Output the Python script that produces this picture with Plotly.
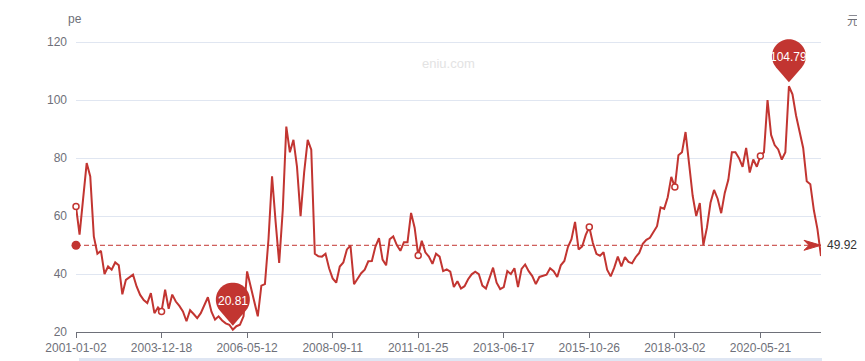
import math
import plotly.graph_objects as go

# ---- data ----
TICK_LABELS = ["2001-01-02", "2003-12-18", "2006-05-12", "2008-09-11", "2011-01-25",
               "2013-06-17", "2015-10-26", "2018-03-02", "2020-05-21"]
POINTS_PER_TICK = 24
# tick positions at which the line shows its small open symbol
SYMBOL_TICKS = ["2001-01-02", "2003-12-18", "2011-01-25", "2015-10-26", "2018-03-02", "2020-05-21"]

PE = [
    63.3, 53.6, 66, 78.3, 73.7, 53, 47, 48, 40, 42.6,
    41.5, 44, 43, 33, 38, 39, 39.8, 35.7, 32.8, 31,
    30, 33.4, 26.5, 28.5, 27.1, 34.6, 28, 32.9, 30.5, 29,
    27.1, 23.7, 27.5, 26.2, 24.8, 26.5, 29.5, 32, 27, 24.3,
    25.4, 24, 23, 22.5, 20.81, 22, 22.5, 25.4, 40.9, 36,
    31.1, 25.4, 36, 36.5, 52, 73.7, 58, 43.8, 62, 90.9,
    82, 86.3, 77, 60, 75, 86.3, 82.9, 47, 46.1, 46,
    47, 42, 38.5, 37, 42.6, 44, 48.5, 49.8, 36.5, 38.5,
    40.3, 41.5, 44.4, 44.5, 49.5, 52.4, 45, 43, 52, 53,
    50, 48, 51, 51, 61.1, 56, 46.4, 51.5, 47.5, 46,
    43.5, 47, 46, 41, 41.6, 40.8, 35.5, 37.5, 35, 35.8,
    38.2, 39.9, 40.8, 40, 36, 35, 39, 42.2, 37, 34.8,
    35.5, 41, 40, 42, 35.5, 41.8, 43.3, 41, 39.3, 36.5,
    39, 39.5, 39.8, 42, 41, 39, 43, 44.5, 49.3, 52,
    58, 48.5, 49.5, 53.5, 56.2, 50.7, 47, 46.3, 47.5, 41.5,
    39.2, 42.2, 46, 42.6, 45.8, 44.2, 43.7, 45.8, 47.3, 50.4,
    51.8, 52.5, 54.5, 56.5, 63, 62.5, 66.5, 73.5, 70, 81,
    82, 89, 78, 67, 60, 64.5, 50, 56, 64.6, 69,
    66, 61, 68, 72.5, 82, 82, 80, 77, 83.5, 75,
    79.5, 77, 80.7, 82, 100, 88, 84.5, 83, 79.5, 82,
    104.79, 102, 94.7, 88.7, 83.5, 72, 71, 62, 55.5, 46.2,
]
AVG_PE = 49.92
Y_TICKS = [20, 40, 60, 80, 100, 120]

# ---- styles ----
RED = "#c23531"
AXIS_C = "#6E7079"
GRID_C = "#E0E6F1"
FONT = "Liberation Sans, Arial, sans-serif"

BODY = 8                     # default page margin around the plot div
W, H = 865 - BODY, 361 - BODY
ML, MR, MT, MB = 68, 44, 11, 29
Y_RANGE = [20, 128]          # headroom above the 120 grid line for the top pin
PW, PH = W - ML - MR, H - MT - MB
PIN_R, PIN_D, PIN_LIFT = 17.0, 26.0, 4.0


def paper_x(page_px):
    return (page_px - BODY - ML) / PW


def paper_y(page_py):
    return ((H - MB) - (page_py - BODY)) / PH


x = list(range(len(PE)))
tickvals = [k * POINTS_PER_TICK for k in range(len(TICK_LABELS))]
sym_idx = [tickvals[TICK_LABELS.index(t)] for t in SYMBOL_TICKS]
i_max = PE.index(max(PE))
i_min = PE.index(min(PE))


def pin_path(r=PIN_R, d=PIN_D, lift=PIN_LIFT, n=48):
    cy = lift + d
    beta = math.acos(r / d)
    a0 = -math.pi / 2 + beta
    a1 = 3 * math.pi / 2 - beta
    pts = [(0.0, lift)]
    for k in range(n + 1):
        a = a0 + (a1 - a0) * k / n
        pts.append((r * math.cos(a), cy + r * math.sin(a)))
    return "M " + " L ".join(f"{px:.2f},{py:.2f}" for px, py in pts) + " Z"


fig = go.Figure()

# average mark line
fig.add_trace(go.Scatter(x=[x[0], x[-1]], y=[AVG_PE, AVG_PE], mode="lines",
                         line=dict(color=RED, width=1, dash="5px,3px"),
                         hoverinfo="skip", showlegend=False))
# main line
fig.add_trace(go.Scatter(x=x, y=PE, mode="lines", line=dict(color=RED, width=2),
                         showlegend=False))
# symbols on label interval
fig.add_trace(go.Scatter(x=sym_idx, y=[PE[i] for i in sym_idx], mode="markers",
                         marker=dict(symbol="circle", size=6, color="white",
                                     line=dict(color=RED, width=1.5)),
                         showlegend=False, hoverinfo="skip", cliponaxis=False))
# start dot of mark line
fig.add_trace(go.Scatter(x=[x[0]], y=[AVG_PE], mode="markers",
                         marker=dict(symbol="circle", size=9, color=RED),
                         showlegend=False, hoverinfo="skip", cliponaxis=False))

shapes = []
# arrow at end of mark line
shapes.append(dict(type="path", xref="x", yref="y", xsizemode="pixel", ysizemode="pixel",
                   xanchor=x[-1], yanchor=AVG_PE,
                   path="M 0,0 L -17,5 L -12,0 L -17,-5 Z",
                   fillcolor=RED, line=dict(color=RED, width=1), layer="above"))
# pins
for idx in (i_max, i_min):
    shapes.append(dict(type="path", xref="x", yref="y", xsizemode="pixel", ysizemode="pixel",
                       xanchor=idx, yanchor=PE[idx], path=pin_path(),
                       fillcolor=RED, line=dict(width=0), layer="above"))
# data zoom strip at the bottom
shapes.append(dict(type="rect", xref="paper", yref="paper",
                   x0=paper_x(79), x1=paper_x(822), y0=paper_y(358), y1=paper_y(363),
                   fillcolor="#dfe6f3", line=dict(width=0), layer="below"))

annotations = []
for idx in (i_max, i_min):
    annotations.append(dict(x=idx, y=PE[idx], xref="x", yref="y", text=f"{PE[idx]:.2f}",
                            showarrow=False, yshift=PIN_LIFT + PIN_D - 1,
                            font=dict(color="white", size=12, family=FONT)))
annotations.append(dict(x=x[-1], y=AVG_PE, xref="x", yref="y", text=f"{AVG_PE:.2f}",
                        showarrow=False, xanchor="left", xshift=4,
                        font=dict(color="#333333", size=12, family=FONT)))
annotations.append(dict(x=paper_x(75), y=paper_y(19), xref="paper", yref="paper",
                        text="pe", showarrow=False, xanchor="center", yanchor="middle",
                        font=dict(color=AXIS_C, size=12, family=FONT)))
annotations.append(dict(x=paper_x(853), y=paper_y(19), xref="paper", yref="paper",
                        text="元", showarrow=False, xanchor="center", yanchor="middle",
                        font=dict(color=AXIS_C, size=12, family="Noto Sans CJK SC")))
annotations.append(dict(x=paper_x(448), y=paper_y(63), xref="paper", yref="paper",
                        text="eniu.com", showarrow=False, xanchor="center", yanchor="middle",
                        font=dict(color="#e3e3e3", size=13, family=FONT)))

fig.update_layout(
    width=W, height=H,
    margin=dict(l=ML, r=MR, t=MT, b=MB, pad=0, autoexpand=False),
    paper_bgcolor="white", plot_bgcolor="white",
    font=dict(family=FONT, size=12, color=AXIS_C),
    showlegend=False,
    shapes=shapes, annotations=annotations,
    xaxis=dict(range=[x[0], x[-1]], tickmode="array", tickvals=tickvals, ticktext=TICK_LABELS,
               showgrid=False, zeroline=False, showline=True, linecolor=AXIS_C, linewidth=1,
               ticks="outside", ticklen=5, tickcolor=AXIS_C, automargin=False,
               tickfont=dict(size=12, color=AXIS_C), fixedrange=True),
    yaxis=dict(range=Y_RANGE, tickmode="array", tickvals=Y_TICKS, showgrid=True,
               gridcolor=GRID_C, gridwidth=1, zeroline=False, showline=False, ticks="",
               ticklabelstandoff=8, automargin=False,
               tickfont=dict(size=12, color=AXIS_C), fixedrange=True),
)

fig.write_html("out.html")
